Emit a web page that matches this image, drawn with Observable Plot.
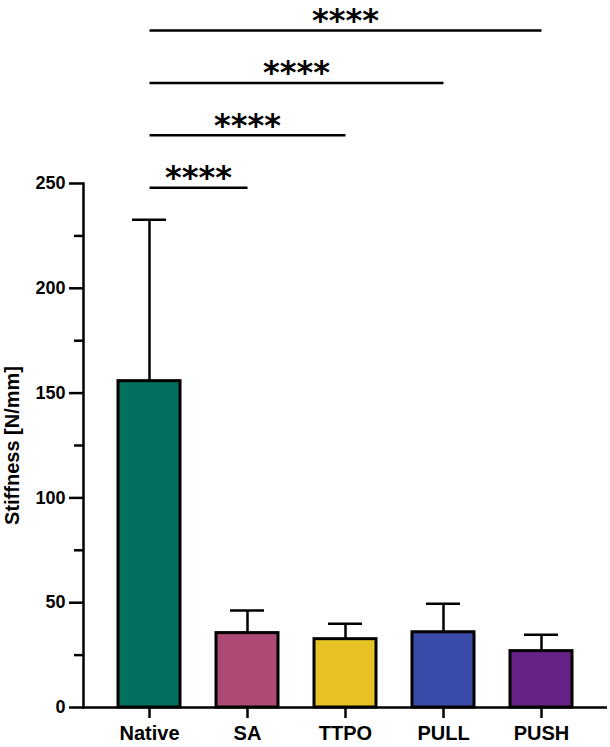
<!DOCTYPE html>
<html>
<head>
<meta charset="utf-8">
<script src="https://cdn.jsdelivr.net/npm/d3@7"></script>
<script src="https://cdn.jsdelivr.net/npm/@observablehq/plot@0.6"></script>
<style>
  html, body { margin: 0; padding: 0; background: #fff; }
  #chart svg { display: block; }
</style>
</head>
<body>
<div id="chart"></div>
<script>
// ---- data ----
const groups = ["Native", "SA", "TTPO", "PULL", "PUSH"];
const means  = [155.7, 35.5, 32.6, 35.9, 26.9];
const sds    = [77.0, 10.8, 7.3, 13.6, 7.8];
const colors = ["#02705f", "#ad4b76", "#e6c224", "#3a4ba9", "#662287"];

const compFrom   = ["Native", "Native", "Native", "Native"];
const compTo     = ["SA", "TTPO", "PULL", "PUSH"];
const compY      = [248, 273, 298, 323];
const compLabels = ["****", "****", "****", "****"];

const majorTicks = [0, 50, 100, 150, 200, 250];
const minorTicks = [25, 75, 125, 175, 225];
const yLabel = "Stiffness [N/mm]";

const data = groups.map((g, i) => ({group: g, mean: means[i], sd: sds[i]}));
const comps = compTo.map((t, i) => ({from: compFrom[i], to: t, y: compY[i], label: compLabels[i]}));

const font = "'Liberation Sans', Arial, Helvetica, sans-serif";

const chart = Plot.plot({
  width: 610,
  height: 747,
  marginLeft: 83,
  marginRight: 3,
  marginTop: 183,
  marginBottom: 40,
  style: {fontFamily: font, fontWeight: "bold", fontSize: "18px", color: "#000", background: "#fff"},
  x: {domain: groups, paddingInner: 0.37, paddingOuter: 0.35, label: null},
  y: {domain: [0, 250], label: null},
  color: {domain: groups, range: colors},
  marks: [
    // error bars (upper only)
    Plot.ruleX(data, {x: "group", y1: "mean", y2: d => d.mean + d.sd, stroke: "#000", strokeWidth: 2.5}),
    Plot.tickY(data, {x: "group", y: d => d.mean + d.sd, stroke: "#000", strokeWidth: 2.5, insetLeft: 14, insetRight: 14}),
    // bars
    Plot.barY(data, {x: "group", y: "mean", fill: "group", stroke: "#000", strokeWidth: 3}),
    // axes
    Plot.axisY({ticks: majorTicks, tickSize: 14, tickPadding: 4, strokeWidth: 2.5, fontSize: 18, label: null}),
    Plot.axisY({ticks: minorTicks, tickSize: 9, tickFormat: () => "", strokeWidth: 2.5, label: null}),
    Plot.axisY({ticks: [], tickSize: 0, label: yLabel, labelAnchor: "center", labelOffset: 79, labelArrow: false, fontSize: 20}),
    Plot.axisX({tickSize: 11, tickPadding: 7, strokeWidth: 2.5, fontSize: 20, label: null}),
    Plot.frame({anchor: "left", strokeWidth: 2.5}),
    Plot.ruleY([0], {strokeWidth: 2.5}),
    // significance brackets
    Plot.link(comps, {x1: "from", x2: "to", y1: "y", y2: "y", stroke: "#000", strokeWidth: 2.5}),
    Plot.text(comps, {
      x: "to", y: "y", text: "label", fontSize: 32, fontWeight: "bold", dy: -10,
      fontFamily: "'DejaVu Sans', sans-serif",
      channels: {xf: {value: "from", scale: "x"}},
      render(index, scales, values, dims, ctx, next) {
        const X = Float64Array.from(values.x, (v, i) => (v + values.xf[i]) / 2);
        return next(index, scales, {...values, x: X}, dims, ctx);
      }
    })
  ]
});
document.getElementById("chart").append(chart);
</script>
</body>
</html>
